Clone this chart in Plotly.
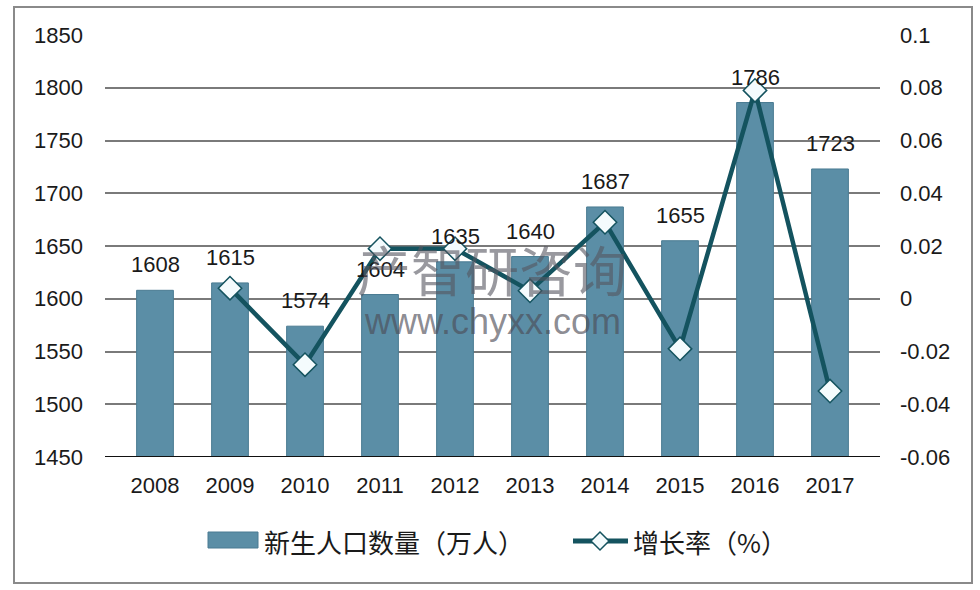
import plotly.graph_objects as go

years = ["2008", "2009", "2010", "2011", "2012", "2013", "2014", "2015", "2016", "2017"]
births = [1608, 1615, 1574, 1604, 1635, 1640, 1687, 1655, 1786, 1723]
growth = [None, 0.004, -0.025, 0.019, 0.019, 0.003, 0.029, -0.019, 0.079, -0.035]
left_ticks = [1450, 1500, 1550, 1600, 1650, 1700, 1750, 1800, 1850]
right_ticks = [-0.06, -0.04, -0.02, 0, 0.02, 0.04, 0.06, 0.08, 0.1]
right_labels = ["-0.06", "-0.04", "-0.02", "0", "0.02", "0.04", "0.06", "0.08", "0.1"]
bar_name = "新生人口数量（万人）"
line_name = "增长率（%）"

FONT = "Liberation Sans, Arial, Noto Sans CJK SC, sans-serif"
CJK = "Noto Sans CJK SC, sans-serif"
BAR = "#5b8ea6"
BAR_EDGE = "#4a7b92"
LINE = "#14535f"

L, R, T, B = 105, 880, 35, 457
W, H = R - L, B - T


def px(x):
    return (x - L) / W


def py(y):
    return (B - y) / H


fig = go.Figure()
fig.add_trace(go.Bar(
    x=years, y=births, name=bar_name,
    marker=dict(color=BAR, line=dict(color=BAR_EDGE, width=1)),
    showlegend=False,
))
fig.add_trace(go.Scatter(
    x=years, y=growth, name=line_name, yaxis="y2", mode="lines+markers",
    line=dict(color=LINE, width=4.5),
    marker=dict(symbol="diamond", size=18, color="#f4fbfd", line=dict(color=LINE, width=1.5)),
    connectgaps=False, showlegend=False, cliponaxis=False,
))

annotations = []
for i, v in enumerate(births):
    annotations.append(dict(
        x=i, y=v, xref="x", yref="y", text=str(v), showarrow=False,
        xanchor="center", yanchor="bottom", yshift=11,
        font=dict(size=22, color="#1a1a1a", family=FONT)))

# watermark
annotations += [
    dict(text="产智研咨询", xref="paper", yref="paper", x=px(492), y=py(268), showarrow=False,
         xanchor="center", yanchor="middle",
         font=dict(size=54, color="rgba(85,85,95,0.6)", family=CJK)),
    dict(text="www.chyxx.com", xref="paper", yref="paper", x=px(492), y=py(321), showarrow=False,
         xanchor="center", yanchor="middle",
         font=dict(size=36, color="rgba(75,75,85,0.65)", family=FONT)),
]

# legend texts
annotations += [
    dict(text=bar_name, xref="paper", yref="paper", x=px(262), y=py(541), xanchor="left",
         yanchor="middle", showarrow=False, font=dict(size=26, color="#1a1a1a", family=CJK)),
    dict(text=line_name, xref="paper", yref="paper", x=px(631), y=py(541), xanchor="left",
         yanchor="middle", showarrow=False, font=dict(size=26, color="#1a1a1a", family=CJK)),
]

dx, dy = 9, 9
cx, cy = 600, 541
shapes = [
    dict(type="line", xref="paper", yref="y", x0=0, x1=1, y0=1450, y1=1450,
         line=dict(color="#111", width=2)),
    dict(type="rect", xref="paper", yref="paper",
         x0=px(14), x1=px(972), y0=py(583), y1=py(7),
         line=dict(color="#8a8a8a", width=2), fillcolor="rgba(0,0,0,0)", layer="below"),
    # legend swatches
    dict(type="rect", xref="paper", yref="paper", x0=px(208), x1=px(258), y0=py(548), y1=py(532),
         fillcolor=BAR, line=dict(color=BAR_EDGE, width=1)),
    dict(type="line", xref="paper", yref="paper", x0=px(573), x1=px(628), y0=py(541), y1=py(541),
         line=dict(color=LINE, width=5)),
    dict(type="path", xref="paper", yref="paper",
         path=(f"M {px(cx - dx)} {py(cy)} L {px(cx)} {py(cy - dy)} "
               f"L {px(cx + dx)} {py(cy)} L {px(cx)} {py(cy + dy)} Z"),
         fillcolor="#f4fbfd", line=dict(color=LINE, width=1.5)),
]

fig.update_layout(
    width=980, height=590,
    margin=dict(l=L, r=980 - R, t=T, b=590 - B),
    paper_bgcolor="white", plot_bgcolor="white",
    font=dict(family=FONT, size=22, color="#1a1a1a"),
    bargap=0.51,
    showlegend=False,
    xaxis=dict(type="category", categoryorder="array", categoryarray=years,
               showgrid=False, showline=False, ticks="", tickfont=dict(size=22),
               ticklabelstandoff=13),
    yaxis=dict(range=[1450, 1850], tickvals=left_ticks, showgrid=True, gridcolor="#7a7a7a",
               gridwidth=1.5, zeroline=False, showline=False, ticks="",
               tickfont=dict(size=22), ticklabelstandoff=21),
    yaxis2=dict(range=[-0.06, 0.1], overlaying="y", side="right", tickvals=right_ticks,
                ticktext=right_labels, showgrid=False, zeroline=False, showline=False,
                ticks="", tickfont=dict(size=22), ticklabelstandoff=19),
    shapes=shapes,
    annotations=annotations,
)

fig.write_html("out.html")
